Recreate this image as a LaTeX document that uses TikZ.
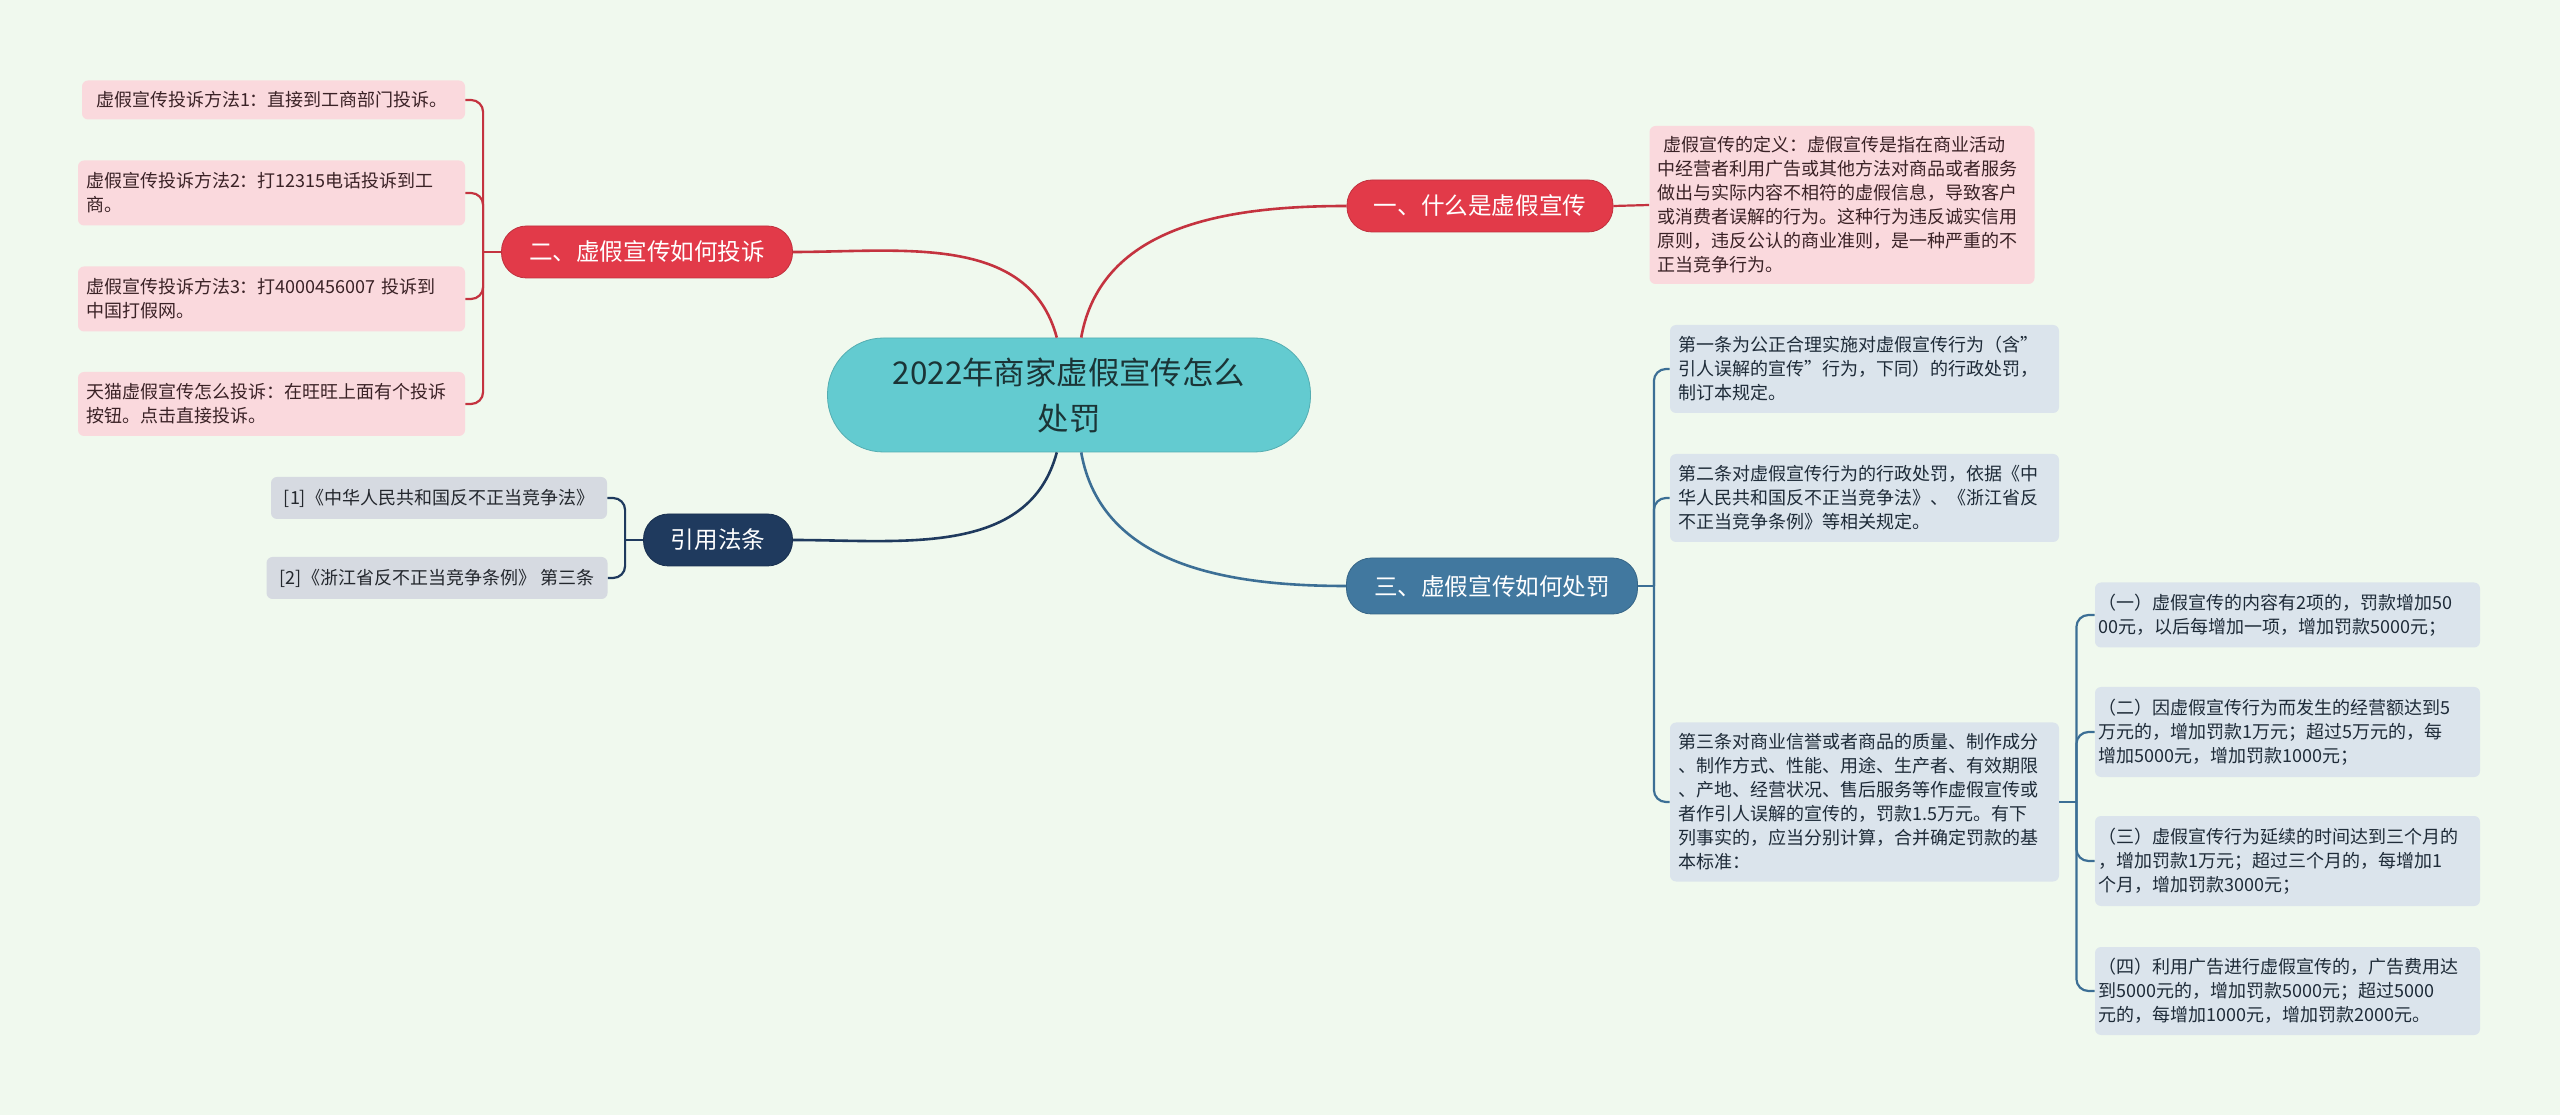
\documentclass[tikz,border=0pt]{standalone}
\usepackage{fontspec}
\usepackage{xcolor}
\usepackage{tikz}
\usetikzlibrary{calc}
\newfontfamily\cjk{Noto Sans CJK SC}

\definecolor{bgmint}{HTML}{F0F9EE}
\definecolor{rootfill}{HTML}{63CBD0}
\definecolor{roottext}{HTML}{1B3436}
\definecolor{redtopic}{HTML}{E23A49}
\definecolor{redline}{HTML}{C4333F}
\definecolor{pinkfill}{HTML}{FAD9DD}
\definecolor{pinktext}{HTML}{3A2226}
\definecolor{navytopic}{HTML}{1F3A5E}
\definecolor{grayfill}{HTML}{D6DAE1}
\definecolor{graytext}{HTML}{23272D}
\definecolor{steeltopic}{HTML}{41789F}
\definecolor{steelline}{HTML}{3C6F95}
\definecolor{bluefill}{HTML}{DBE4EC}
\definecolor{bluetext}{HTML}{1E2B38}

\tikzset{
  rootbox/.style={fill=rootfill, draw=rootfill!85!black, line width=0.4pt, rounded corners=28pt,
    minimum width=241.5pt, minimum height=57pt, align=center, text=roottext,
    font=\cjk\fontsize{15.7pt}{23pt}\selectfont},
  topicbox/.style={fill=#1, draw=#1!85!black, line width=0.4pt, rounded corners=12.5pt,
    minimum height=26pt, text=white, font=\cjk\fontsize{11.8pt}{14pt}\selectfont},
  leafbox/.style={rounded corners=3pt, inner xsep=4pt, inner ysep=2pt, align=left,
    font=\cjk\fontsize{9pt}{12pt}\selectfont},
  pinkleaf/.style={leafbox, fill=pinkfill, text=pinktext},
  grayleaf/.style={leafbox, fill=grayfill, text=graytext, align=center, minimum height=21pt},
  blueleaf/.style={leafbox, fill=bluefill, text=bluetext},
  mainlink/.style={line width=1.3pt},
  leaflink/.style={line width=1.1pt, rounded corners=6pt}
}

\begin{document}
\begin{tikzpicture}[x=0.5pt, y=0.5pt]
  % Page background (fixes the picture size)
  \fill[bgmint] (0,0) rectangle (2560,1115);
  \useasboundingbox (0,0) rectangle (2560,1115);

  % Central topic
  \node[rootbox] (root) at (1069,720) {2022年商家虚假宣传怎么\\处罚};

  % Main branches
  \node[topicbox=redtopic, minimum width=133pt] (what) at (1480,909) {一、什么是虚假宣传};
  \node[topicbox=redtopic, minimum width=145.5pt] (complain) at (647,863) {二、虚假宣传如何投诉};
  \node[topicbox=navytopic, minimum width=74.5pt] (law) at (718,575) {引用法条};
  \node[topicbox=steeltopic, minimum width=145.5pt, minimum height=28pt] (punish) at (1492,529) {三、虚假宣传如何处罚};

  % Definition
  \node[pinkleaf, text width=184.5pt, minimum height=79pt] (what1) at (1842,910)
    {\hspace*{3pt}虚假宣传的定义：虚假宣传是指在商业活动\\中经营者利用广告或其他方法对商品或者服务\\做出与实际内容不相符的虚假信息，导致客户\\或消费者误解的行为。这种行为违反诚实信用\\原则，违反公认的商业准则，是一种严重的不\\正当竞争行为。};

  % Ways to complain
  \node[pinkleaf, text width=183.5pt, minimum height=19.5pt] (complain1) at (273.5,1015)
    {\hspace*{3pt}虚假宣传投诉方法1：直接到工商部门投诉。};
  \node[pinkleaf, text width=185.5pt, minimum height=32.5pt] (complain2) at (271.5,922)
    {虚假宣传投诉方法2：打12315电话投诉到工\\商。};
  \node[pinkleaf, text width=185.5pt, minimum height=32.5pt] (complain3) at (271.5,816)
    {虚假宣传投诉方法3：打4000456007 投诉到\\中国打假网。};
  \node[pinkleaf, text width=185.5pt, minimum height=32pt] (complain4) at (271.5,711)
    {天猫虚假宣传怎么投诉：在旺旺上面有个投诉\\按钮。点击直接投诉。};

  % Cited laws
  \node[grayleaf, minimum width=168pt] (law1) at (439,617) {[1]《中华人民共和国反不正当竞争法》};
  \node[grayleaf, minimum width=170.5pt] (law2) at (437,537) {[2]《浙江省反不正当竞争条例》 第三条};

  % Articles on penalties
  \node[blueleaf, text width=186.5pt, minimum height=44pt] (punish1) at (1864.5,746)
    {第一条为公正合理实施对虚假宣传行为（含”\\引人误解的宣传”行为，下同）的行政处罚，\\制订本规定。};
  \node[blueleaf, text width=186.5pt, minimum height=44pt] (punish2) at (1864.5,617)
    {第二条对虚假宣传行为的行政处罚，依据《中\\华人民共和国反不正当竞争法》、《浙江省反\\不正当竞争条例》等相关规定。};
  \node[blueleaf, text width=186.5pt, minimum height=79.5pt] (punish3) at (1864.5,313)
    {第三条对商业信誉或者商品的质量、制作成分\\、制作方式、性能、用途、生产者、有效期限\\、产地、经营状况、售后服务等作虚假宣传或\\者作引人误解的宣传的，罚款1.5万元。有下\\列事实的，应当分别计算，合并确定罚款的基\\本标准：};

  % Extra fines
  \node[blueleaf, inner xsep=1.75pt, text width=189pt, minimum height=32.5pt] (fine1) at (2287.5,500)
    {（一）虚假宣传的内容有2项的，罚款增加50\\00元，以后每增加一项，增加罚款5000元；};
  \node[blueleaf, inner xsep=1.75pt, text width=189pt, minimum height=45pt] (fine2) at (2287.5,383)
    {（二）因虚假宣传行为而发生的经营额达到5\\万元的，增加罚款1万元；超过5万元的，每\\增加5000元，增加罚款1000元；};
  \node[blueleaf, inner xsep=1.75pt, text width=189pt, minimum height=45pt] (fine3) at (2287.5,254)
    {（三）虚假宣传行为延续的时间达到三个月的\\，增加罚款1万元；超过三个月的，每增加1\\个月，增加罚款3000元；};
  \node[blueleaf, inner xsep=1.75pt, text width=189pt, minimum height=44pt] (fine4) at (2287.5,124)
    {（四）利用广告进行虚假宣传的，广告费用达\\到5000元的，增加罚款5000元；超过5000\\元的，每增加1000元，增加罚款2000元。};

  % Root to branches
  \draw[mainlink, redline] (root.78) to[out=80, in=180] (what.west);
  \draw[mainlink, redline] (root.102) to[out=105, in=0] (complain.east);
  \draw[mainlink, navytopic] (root.-102) to[out=-105, in=0] (law.east);
  \draw[mainlink, steelline] (root.-78) to[out=-80, in=180] (punish.west);

  % Branch to leaves
  \draw[leaflink, redline] (what.east) -- (what1.west);

  \draw[leaflink, redline] (complain.west) -- ++(-18,0) coordinate (cj);
  \draw[leaflink, redline] (cj) |- (complain1.east);
  \draw[leaflink, redline] (cj) |- (complain2.east);
  \draw[leaflink, redline] (cj) |- (complain3.east);
  \draw[leaflink, redline] (cj) |- (complain4.east);

  \draw[leaflink, navytopic] (law.west) -- ++(-18,0) coordinate (lj);
  \draw[leaflink, navytopic] (lj) |- (law1.east);
  \draw[leaflink, navytopic] (lj) |- (law2.east);

  \draw[leaflink, steelline] (punish.east) -- ++(16,0) coordinate (pj);
  \draw[leaflink, steelline] (pj) |- (punish1.west);
  \draw[leaflink, steelline] (pj) |- (punish2.west);
  \draw[leaflink, steelline] (pj) |- (punish3.west);

  \draw[leaflink, steelline] (punish3.east) -- ++(17,0) coordinate (fj);
  \draw[leaflink, steelline] (fj) |- (fine1.west);
  \draw[leaflink, steelline] (fj) |- (fine2.west);
  \draw[leaflink, steelline] (fj) |- (fine3.west);
  \draw[leaflink, steelline] (fj) |- (fine4.west);
\end{tikzpicture}
\end{document}
